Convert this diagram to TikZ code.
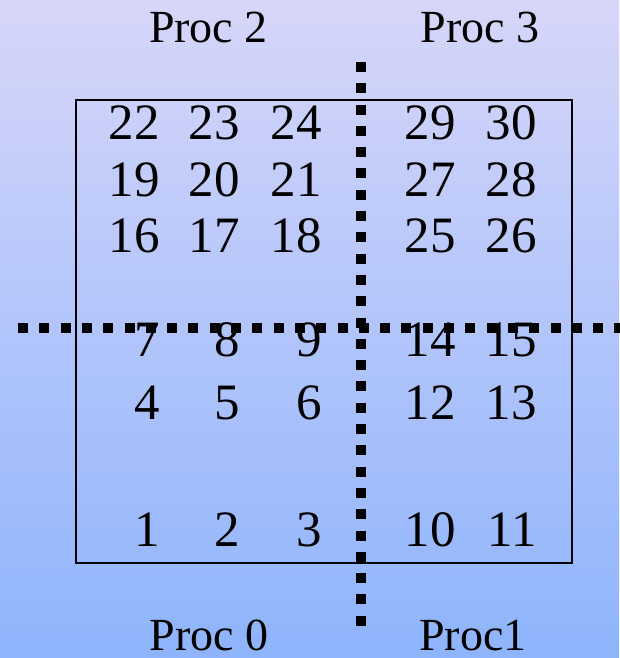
\documentclass[tikz,border=0pt]{standalone}
\usepackage{fontspec}
\setmainfont{Liberation Serif}
\definecolor{bgtop}{RGB}{214,214,249}
\definecolor{bgbot}{RGB}{142,180,252}
\tikzset{
  num/.style={anchor=base east, inner sep=0pt, font=\fontsize{51}{51}\selectfont},
  proc/.style={anchor=base, inner sep=0pt, font=\fontsize{46}{46}\selectfont},
  dotline/.style={line width=10pt, line cap=butt, dash pattern=on 10pt off 11.3pt},
  grid/.style={draw, line width=1.8pt}
}
\begin{document}
\begin{tikzpicture}[x=1pt,y=1pt]
\useasboundingbox (0,0) rectangle (619,658);
\shade[top color=bgtop, bottom color=bgbot] (0,0) rectangle (619,658);
\node[grid, minimum width=496pt, minimum height=463pt, inner sep=0pt, anchor=south west] (box) at (75,94) {};
% labels
\node[proc] (p2) at (208.5,615) {Proc 2};
\node[proc] (p3) at (480,615) {Proc 3};
\node[proc] (p0) at (209,7) {Proc 0};
\node[proc] (p1) at (473,7) {Proc1};
% rows of numbers
\node[num] (n22) at (160,518) {22};
\node[num] (n23) at (240,518) {23};
\node[num] (n24) at (322,518) {24};
\node[num] (n29) at (456,518) {29};
\node[num] (n30) at (537,518) {30};
\node[num] (n19) at (160,461) {19};
\node[num] (n20) at (240,461) {20};
\node[num] (n21) at (322,461) {21};
\node[num] (n27) at (456,461) {27};
\node[num] (n28) at (537,461) {28};
\node[num] (n16) at (160,405) {16};
\node[num] (n17) at (240,405) {17};
\node[num] (n18) at (322,405) {18};
\node[num] (n25) at (456,405) {25};
\node[num] (n26) at (537,405) {26};
\node[num] (n7) at (160,301) {7};
\node[num] (n8) at (240,301) {8};
\node[num] (n9) at (322,301) {9};
\node[num] (n14) at (456,301) {14};
\node[num] (n15) at (537,301) {15};
\node[num] (n4) at (160,238) {4};
\node[num] (n5) at (240,238) {5};
\node[num] (n6) at (322,238) {6};
\node[num] (n12) at (456,238) {12};
\node[num] (n13) at (537,238) {13};
\node[num] (n1) at (160,111) {1};
\node[num] (n2) at (240,111) {2};
\node[num] (n3) at (322,111) {3};
\node[num] (n10) at (456,111) {10};
\node[num] (n11) at (537,111) {11};
% dotted partition lines
\coordinate (vtop) at (361,596);
\coordinate (vbot) at (361,30);
\coordinate (hl) at (18,330);
\coordinate (hr) at (625,330);
\draw[dotline] (hl) -- (hr);
\draw[dotline] (vtop) -- (vbot);
\end{tikzpicture}
\end{document}
